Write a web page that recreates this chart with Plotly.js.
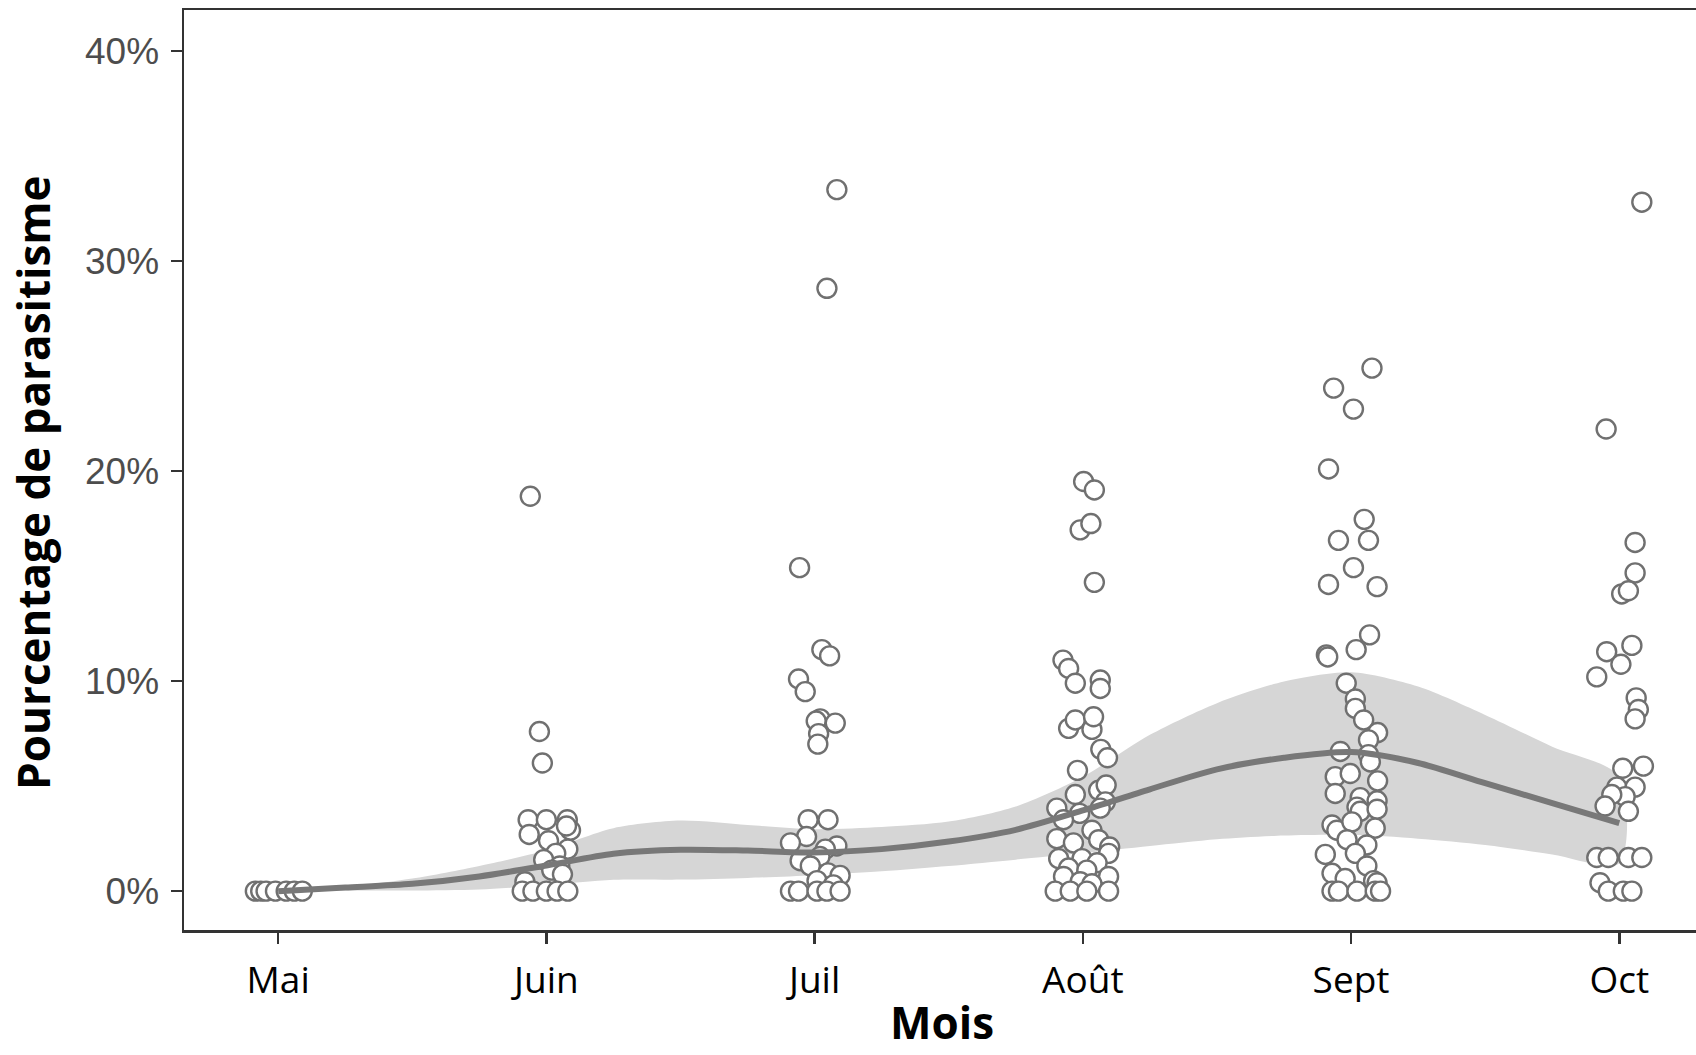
<!DOCTYPE html>
<html>
<head>
<meta charset="utf-8">
<script src="https://cdn.plot.ly/plotly-3.0.1.min.js"></script>
<style>
  html, body { margin: 0; padding: 0; background: #ffffff; overflow: hidden; }
  #chart { width: 1696px; height: 1055px; }
</style>
</head>
<body>
<div id="chart"></div>
<script>
// ---- Categories (months) ----
const months = ["Mai", "Juin", "Juil", "Août", "Sept", "Oct"];

// ---- Observed points: jitter offset (in months) and parasitism (%) ----
const maiJit  = [-0.085, -0.065, -0.045, -0.01, 0.03, 0.06, 0.09];
const maiVal  = [0, 0, 0, 0, 0, 0, 0];

const juinJit = [-0.06, -0.026, -0.015, -0.068, 0.0, 0.078, 0.09, -0.064, 0.075, 0.008, 0.08, 0.035, -0.01, 0.05, 0.02, 0.06, -0.08, -0.09, -0.05, 0.0, 0.04, 0.08];
const juinVal = [18.8, 7.6, 6.1, 3.4, 3.4, 3.4, 2.9, 2.7, 3.1, 2.4, 2.0, 1.8, 1.5, 1.2, 1.0, 0.8, 0.45, 0, 0, 0, 0, 0];

const juilJit = [0.083, 0.046, -0.056, 0.027, 0.056, -0.06, -0.035, 0.021, 0.006, 0.077, 0.015, 0.012, -0.024, 0.05, -0.03, -0.09, 0.083, 0.04, 0.02, -0.054, -0.016, 0.05, 0.095, 0.009, 0.07, -0.09, -0.06, 0.009, 0.046, 0.095];
const juilVal = [33.4, 28.7, 15.4, 11.5, 11.2, 10.1, 9.5, 8.2, 8.1, 8.0, 7.5, 7.0, 3.4, 3.4, 2.6, 2.3, 2.15, 2.0, 1.65, 1.45, 1.2, 0.87, 0.75, 0.5, 0.3, 0, 0, 0, 0, 0];

const aoutJit = [0.003, 0.043, -0.01, 0.03, 0.043, -0.074, -0.053, -0.028, 0.065, 0.065, -0.053, -0.028, 0.034, 0.04, 0.067, 0.092, -0.02, -0.028, 0.059, 0.087, 0.084, -0.097, -0.012, 0.065, -0.072, 0.034, -0.097, -0.035, 0.059, 0.1, 0.096, -0.09, -0.003, 0.053, -0.053, 0.015, -0.072, 0.096, -0.01, 0.034, -0.103, -0.047, 0.015, 0.096];
const aoutVal = [19.5, 19.1, 17.2, 17.5, 14.7, 11.0, 10.6, 9.9, 10.05, 9.65, 7.75, 8.15, 7.7, 8.3, 6.75, 6.35, 5.75, 4.6, 4.8, 5.05, 4.25, 3.95, 3.7, 3.95, 3.4, 2.9, 2.5, 2.3, 2.45, 2.1, 1.8, 1.55, 1.55, 1.35, 1.1, 1.0, 0.7, 0.7, 0.45, 0.35, 0, 0, 0, 0];

const septJit = [0.078, -0.065, 0.009, -0.084, 0.049, -0.047, 0.065, 0.009, -0.084, 0.097, 0.069, 0.019, -0.092, -0.087, -0.018, 0.016, 0.016, 0.047, 0.099, 0.065, -0.04, 0.065, 0.072, -0.059, -0.003, 0.099, -0.059, 0.034, 0.097, 0.022, 0.034, 0.097, -0.071, -0.053, 0.003, 0.09, -0.015, 0.059, 0.016, -0.096, 0.059, -0.071, -0.022, 0.084, 0.097, -0.071, -0.047, 0.022, 0.09, 0.11];
const septVal = [24.9, 23.95, 22.95, 20.1, 17.7, 16.7, 16.7, 15.4, 14.6, 14.5, 12.2, 11.5, 11.25, 11.15, 9.9, 9.15, 8.7, 8.15, 7.55, 7.2, 6.65, 6.5, 6.15, 5.45, 5.6, 5.25, 4.65, 4.45, 4.3, 4.0, 3.8, 3.9, 3.15, 2.9, 3.3, 3.0, 2.45, 2.2, 1.8, 1.75, 1.2, 0.85, 0.6, 0.5, 0.4, 0, 0, 0, 0, 0];

const octJit  = [0.084, -0.049, 0.059, 0.059, 0.009, 0.034, 0.047, -0.047, 0.006, -0.084, 0.063, 0.071, 0.059, 0.09, 0.013, -0.009, 0.059, 0.022, -0.028, -0.053, 0.034, -0.084, -0.041, 0.034, 0.084, -0.072, -0.041, 0.015, 0.047];
const octVal  = [32.8, 22.0, 16.6, 15.15, 14.15, 14.3, 11.7, 11.4, 10.8, 10.2, 9.2, 8.65, 8.2, 5.95, 5.85, 4.95, 4.95, 4.5, 4.6, 4.05, 3.8, 1.6, 1.6, 1.6, 1.6, 0.4, 0, 0, 0];

// ---- Smoothed trend with confidence band (month index 0 = Mai ... 5 = Oct) ----
const smoothX     = [0, 0.25, 0.5, 0.75, 1, 1.25, 1.5, 1.75, 2, 2.25, 2.5, 2.75, 3, 3.25, 3.5, 3.75, 4, 4.25, 4.5, 4.75, 5];
const smoothFit   = [0, 0.17, 0.35, 0.7, 1.22, 1.78, 1.97, 1.93, 1.84, 2.0, 2.36, 2.92, 3.84, 4.85, 5.8, 6.35, 6.62, 6.1, 5.14, 4.19, 3.24];
const smoothUpper = [0, 0.2, 0.6, 1.2, 1.95, 3.0, 3.36, 3.15, 2.95, 3.05, 3.31, 4.03, 5.45, 7.44, 8.95, 9.98, 10.42, 9.74, 8.39, 6.88, 5.45];
const smoothLower = [0, 0.03, 0.03, 0.08, 0.28, 0.54, 0.55, 0.63, 0.76, 0.95, 1.2, 1.5, 1.81, 2.15, 2.47, 2.65, 2.68, 2.5, 2.2, 1.75, 1.33];

const yTickVals = [0, 10, 20, 30, 40];
const yTickText = ["0%", "10%", "20%", "30%", "40%"];

// ---- Build point arrays ----
const groups = [[maiJit, maiVal], [juinJit, juinVal], [juilJit, juilVal], [aoutJit, aoutVal], [septJit, septVal], [octJit, octVal]];
const ptX = [], ptY = [];
groups.forEach(([jit, val], i) => {
  jit.forEach((j, k) => { ptX.push(i + j); ptY.push(val[k]); });
});

const bandX = smoothX.concat(smoothX.slice().reverse());
const bandY = smoothUpper.concat(smoothLower.slice().reverse());

const traces = [
  {
    x: bandX, y: bandY, type: "scatter", mode: "lines",
    fill: "toself", fillcolor: "#d6d6d6",
    line: { width: 0, shape: "spline", smoothing: 0.8, color: "#d6d6d6" },
    hoverinfo: "skip", showlegend: false
  },
  {
    x: ptX, y: ptY, type: "scatter", mode: "markers",
    marker: { symbol: "circle", size: 19, color: "#ffffff", line: { color: "#707070", width: 2.4 } },
    showlegend: false
  },
  {
    x: smoothX, y: smoothFit, type: "scatter", mode: "lines",
    line: { color: "#787878", width: 6, shape: "spline", smoothing: 0.8 },
    showlegend: false
  }
];

const titleFont = { family: "Open Sans, Noto Sans, sans-serif", size: 44, color: "#000000", weight: "bold" };

const layout = {
  width: 1696, height: 1055,
  margin: { l: 184, r: 0, t: 10, b: 125, pad: 0 },
  paper_bgcolor: "#ffffff", plot_bgcolor: "#ffffff",
  showlegend: false,
  xaxis: {
    range: [-0.351, 5.286],
    tickmode: "array", tickvals: [0, 1, 2, 3, 4, 5], ticktext: months,
    showgrid: false, zeroline: false,
    showline: true, linecolor: "#333333", linewidth: 2.5, mirror: true,
    ticks: "outside", ticklen: 11, tickwidth: 2.5, tickcolor: "#333333",
    tickfont: { family: "Open Sans, Noto Sans, sans-serif", size: 37, color: "#000000" },
    ticklabelstandoff: 5,
    automargin: false
  },
  yaxis: {
    range: [-1.85, 41.95],
    tickmode: "array", tickvals: yTickVals, ticktext: yTickText,
    showgrid: false, zeroline: false,
    showline: true, linecolor: "#333333", linewidth: 2.5, mirror: false,
    ticks: "outside", ticklen: 11, tickwidth: 2.5, tickcolor: "#333333",
    tickfont: { family: "Liberation Sans, Arial, sans-serif", size: 37, color: "#4d4d4d" },
    ticklabelstandoff: 4,
    automargin: false
  },
  annotations: [
    {
      text: "Pourcentage de parasitisme",
      xref: "paper", yref: "paper", x: 0, y: 0.486,
      xanchor: "center", yanchor: "middle", xshift: -151, textangle: -90,
      showarrow: false, font: titleFont
    },
    {
      text: "Mois",
      xref: "paper", yref: "paper", x: 0.501, y: 0,
      xanchor: "center", yanchor: "bottom", yshift: -124,
      showarrow: false, font: titleFont
    }
  ]
};

Plotly.newPlot("chart", traces, layout, { displayModeBar: false, staticPlot: true });
</script>
</body>
</html>
